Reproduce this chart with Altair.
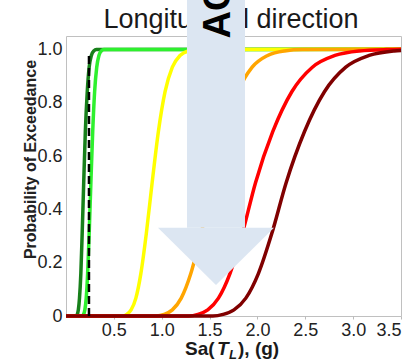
import altair as alt
import pandas as pd

# ---------------- data ----------------
x_ticks = [0.5, 1.0, 1.5, 2.0, 2.5, 3.0, 3.5]
y_ticks = [0, 0.2, 0.4, 0.6, 0.8, 1.0]

prob = [0, 0, 0.006, 0.023, 0.067, 0.159, 0.309, 0.5, 0.691, 0.841, 0.933, 0.977, 0.994, 0.999, 1.0]

ds1_x = [0, 0.108, 0.118, 0.129, 0.141, 0.155, 0.169, 0.185, 0.202, 0.222, 0.242, 0.265, 0.290, 0.317, 3.5]
ds2_x = [0, 0.171, 0.183, 0.197, 0.211, 0.226, 0.242, 0.260, 0.279, 0.299, 0.321, 0.344, 0.369, 0.396, 3.5]
ds3_x = [0, 0.591, 0.635, 0.680, 0.730, 0.782, 0.839, 0.900, 0.965, 1.035, 1.111, 1.191, 1.277, 1.370, 3.5]
ds4_x = [0, 0.947, 1.025, 1.111, 1.204, 1.304, 1.412, 1.530, 1.657, 1.796, 1.945, 2.107, 2.283, 2.473, 3.5]
ds5_x = [0, 1.281, 1.378, 1.481, 1.593, 1.713, 1.842, 1.980, 2.160, 2.359, 2.574, 2.810, 3.067, 3.347, 3.5]
ds6_x = [0, 1.534, 1.641, 1.755, 1.879, 2.010, 2.150, 2.300, 2.491, 2.700, 2.923, 3.167, 3.430, 3.5]
ds6_y = [0, 0, 0.006, 0.023, 0.067, 0.159, 0.309, 0.5, 0.691, 0.841, 0.933, 0.977, 0.994, 0.996]

series_names = ["DS1", "DS2", "DS3", "DS4", "DS5", "DS6"]
series_x = [ds1_x, ds2_x, ds3_x, ds4_x, ds5_x, ds6_x]
series_y = [prob, prob, prob, prob, prob, ds6_y]
series_colors = ["#17801a", "#2ef02e", "#ffff00", "#ffa500", "#ff0000", "#800000"]

median_line_x = [0.24]
median_line_y = [0.0, 0.99]

title_text = "Longitudinal direction"
arrow_text = "AC"
# arrow overlay (data coordinates)
shaft_x = [1.264, 1.870]
shaft_y = [0.331, 1.25]
head_x = [0.961, 1.567, 2.173]
head_y = [0.331, 0.1165, 0.331]
head_base = [0.331, 0.331, 0.331]

# ---------------- chart ----------------
W, H = 335, 280
FONT = "Liberation Sans"
xs = alt.Scale(domain=[0, 3.5], nice=False, zero=False)
ys = alt.Scale(domain=[0, 1.05], nice=False, zero=False)

x_axis = alt.Axis(values=x_ticks, format=".1f", title=None, grid=False, domain=False,
                  tickSize=3, tickColor="#bbbbbb", labelFont=FONT, labelFontSize=18,
                  labelColor="#222222", labelPadding=2)
y_axis = alt.Axis(values=y_ticks, title="Probability of Exceedance", grid=False, domain=False,
                  ticks=False, labelFont=FONT, labelFontSize=18, labelColor="#222222",
                  labelPadding=4,
                  labelExpr="datum.value == 0 ? '0' : format(datum.value, '.1f')",
                  titleFont=FONT, titleFontSize=16, titleFontWeight="bold", titleColor="#222222",
                  titleAngle=270, titleAlign="center", titleBaseline="alphabetic",
                  titleX=-31, titleY=123)

X = alt.X("sa:Q", scale=xs, axis=x_axis)
Y = alt.Y("p:Q", scale=ys, axis=y_axis)

layers = []
for i, (name, xv, yv, col) in enumerate(zip(series_names, series_x, series_y, series_colors)):
    df = pd.DataFrame({"sa": xv, "p": yv, "ds": name})
    layers.append(
        alt.Chart(df).mark_line(color=col, strokeWidth=3.5, interpolate="monotone").encode(x=X, y=Y)
    )

rule_df = pd.DataFrame({"sa": median_line_x, "p": [median_line_y[0]], "p2": [median_line_y[1]]})
layers.append(
    alt.Chart(rule_df).mark_rule(color="black", strokeWidth=2.5, strokeDash=[8, 4]).encode(
        x=X, y=Y, y2="p2:Q",
    )
)

title_df = pd.DataFrame({"t": [title_text]})
layers.append(
    alt.Chart(title_df).mark_text(font=FONT, fontSize=27, color="#1a1a1a", align="center",
                                  baseline="alphabetic").encode(
        text="t:N", x=alt.value(165), y=alt.value(-8)
    )
)

shaft_df = pd.DataFrame({"sa": [shaft_x[0]], "sa2": [shaft_x[1]], "p": [shaft_y[0]], "p2": [shaft_y[1]]})
layers.append(
    alt.Chart(shaft_df).mark_rect(color="#dce6f2").encode(
        x=X, x2="sa2:Q", y=Y, y2="p2:Q",
    )
)
head_df = pd.DataFrame({"sa": head_x, "p": head_y, "p2": head_base})
layers.append(
    alt.Chart(head_df).mark_area(color="#dce6f2", orient="vertical", opacity=1).encode(
        x=X, y=Y, y2="p2:Q",
    )
)
txt_df = pd.DataFrame({"sa": [1.713], "p": [1.041], "t": [arrow_text]})
layers.append(
    alt.Chart(txt_df).mark_text(font=FONT, fontSize=38, fontWeight="bold", color="black",
                                angle=270, align="left", baseline="alphabetic").encode(
        x=X, y=Y, text="t:N",
    )
)

# x-axis title: Sa(T_L), (g) with italic subscript
xt_parts = ["Sa(", "T", "L", "), (g)"]
xt_pos = [119, 151, 163, 172]
xt_y = [319, 319, 323, 319]
xt_size = [19, 19, 13, 19]
xt_style = ["normal", "italic", "italic", "normal"]
for t, px, py, fs, st in zip(xt_parts, xt_pos, xt_y, xt_size, xt_style):
    d = pd.DataFrame({"t": [t]})
    layers.append(
        alt.Chart(d).mark_text(font=FONT, fontSize=fs, fontWeight="bold", fontStyle=st,
                               color="#1a1a1a", align="left", baseline="alphabetic").encode(
            text="t:N", x=alt.value(px), y=alt.value(py)
        )
    )

chart = alt.layer(*layers).properties(
    width=W, height=H,
    autosize=alt.AutoSizeParams(type="none"),
    padding={"left": 66, "top": 36, "right": 15, "bottom": 45},
    background="white",
).configure_view(stroke="#c0c0c0", strokeWidth=1)

chart.save("out.html", embed_options={"renderer": "svg", "actions": False})
